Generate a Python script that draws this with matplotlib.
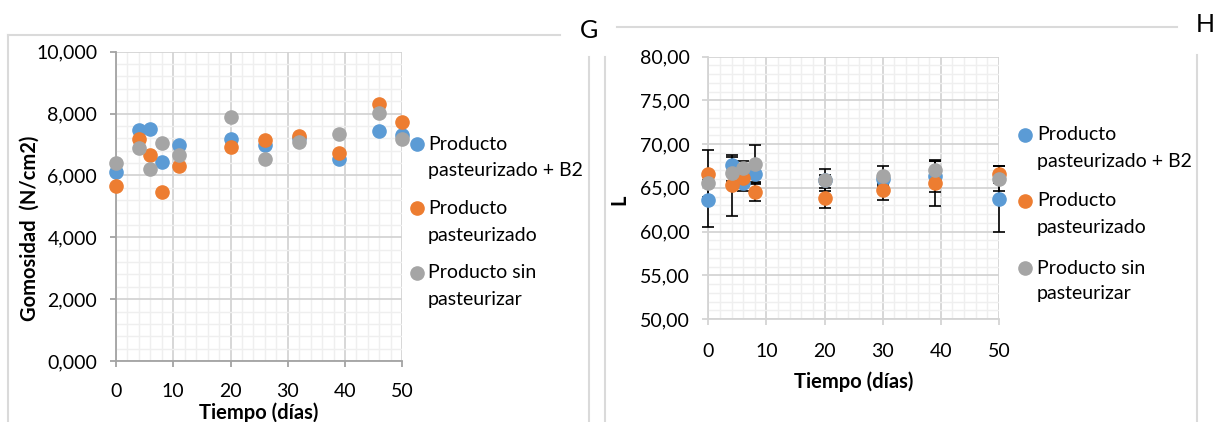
import matplotlib.pyplot as plt
from matplotlib.lines import Line2D
from matplotlib.ticker import FuncFormatter, MultipleLocator

plt.rcParams["font.family"] = ["Lato", "DejaVu Sans"]

# Gomosidad (N/cm2) over storage time
days_g = [0, 4, 6, 8, 11, 20, 26, 32, 39, 46, 50]
gom_b2 = [6.10, 7.47, 7.50, 6.44, 6.97, 7.17, 6.97, 7.22, 6.53, 7.44, 7.31]
gom_past = [5.66, 7.17, 6.66, 5.45, 6.30, 6.93, 7.15, 7.27, 6.72, 8.30, 7.74]
gom_raw = [6.39, 6.88, 6.22, 7.06, 6.66, 7.88, 6.54, 7.09, 7.33, 8.03, 7.19]

# Luminosity L with standard deviations
days_l = [0, 4, 6, 8, 20, 30, 39, 50]
l_b2 = [63.57, 67.58, 65.55, 66.63, 65.94, 66.00, 66.30, 63.76]
l_b2_err = [3.00, 0.90, 0.90, 1.00, 0.50, 0.60, 1.80, 3.76]
l_past = [66.63, 65.29, 66.17, 64.52, 63.88, 64.79, 65.55, 66.55]
l_past_err = [2.67, 3.50, 0.50, 1.00, 1.15, 1.20, 2.65, 1.00]
l_raw = [65.55, 66.74, 67.31, 67.70, 65.86, 66.35, 67.09, 66.05]
l_raw_err = [0.30, 1.00, 0.76, 2.25, 1.25, 1.10, 1.00, 1.40]

labels = [["Producto", "pasteurizado + B2"],
          ["Producto", "pasteurizado"],
          ["Producto sin", "pasteurizar"]]
colors = ["#5B9BD5", "#ED7D31", "#A5A5A5"]

W, H = 1218, 422


def fx(px):
    return px / W


def fy(py):
    return 1 - py / H


def style_axes(ax, spine_color, ymaj, ymin, fmt, xpad):
    ax.set_xlim(0, 50)
    ax.xaxis.set_major_locator(MultipleLocator(10))
    ax.xaxis.set_minor_locator(MultipleLocator(2))
    ax.yaxis.set_major_locator(MultipleLocator(ymaj))
    ax.yaxis.set_minor_locator(MultipleLocator(ymin))
    ax.yaxis.set_major_formatter(FuncFormatter(lambda v, p: fmt.format(v).replace(".", ",")))
    ax.grid(which="major", color="#D4D4D4", linewidth=1.3)
    ax.grid(which="minor", color="#EFEFEF", linewidth=1.0)
    ax.set_axisbelow(True)
    for side in ("top", "right"):
        ax.spines[side].set_visible(False)
    for side in ("left", "bottom"):
        ax.spines[side].set_color(spine_color)
        ax.spines[side].set_linewidth(1.3)
    ax.tick_params(which="major", direction="out", length=4.5, width=1.3,
                   color=spine_color, labelsize=14, pad=9)
    ax.tick_params(axis="x", which="major", pad=xpad)
    ax.tick_params(which="minor", length=0)


def draw_legend(fig, mx, tx, rows):
    for (y1, y2), lab, c in zip(rows, labels, colors):
        fig.add_artist(Line2D([fx(mx)], [fy(y1)], marker="o", ms=9.5, color=c,
                              linestyle="none", transform=fig.transFigure))
        fig.text(fx(tx), fy(y1), lab[0], fontsize=14, va="center", ha="left")
        fig.text(fx(tx), fy(y2), lab[1], fontsize=14, va="center", ha="left")


fig = plt.figure(figsize=(W / 100, H / 100), dpi=100)

# left panel: gumminess
ax1 = fig.add_axes([fx(116), fy(361), fx(402.3) - fx(116), fy(51.7) - fy(361)])
ax1.set_ylim(0, 10)
style_axes(ax1, "#A3A3A3", 2, 0.4, "{:.3f}", 11.5)
for ys, c in zip([gom_b2, gom_past, gom_raw], colors):
    ax1.plot(days_g, ys, "o", ms=9.5, color=c, clip_on=False, zorder=3)
ax1.set_xlabel("Tiempo (días)", fontsize=14.5, fontweight="bold")
ax1.set_ylabel("Gomosidad  (N/cm2)", fontsize=14.5, fontweight="bold")
ax1.xaxis.set_label_coords(0.5, -0.135)
ax1.yaxis.set_label_coords(-0.265, 0.43)
draw_legend(fig, 417, 428, [(144, 170), (208, 236), (273, 299)])

# right panel: luminosity
ax2 = fig.add_axes([fx(708.3), fy(319), fx(999) - fx(708.3), fy(56.7) - fy(319)])
ax2.set_ylim(50, 80)
style_axes(ax2, "#D4D4D4", 5, 1, "{:.2f}", 12.5)
for ys, es, c in zip([l_b2, l_past, l_raw], [l_b2_err, l_past_err, l_raw_err], colors):
    ax2.errorbar(days_l, ys, yerr=es, fmt="none", ecolor="black", elinewidth=1.2,
                 capsize=4, capthick=1.2, clip_on=False, zorder=3)
for ys, c in zip([l_b2, l_past, l_raw], colors):
    ax2.plot(days_l, ys, "o", ms=9.5, color=c, clip_on=False, zorder=4)
ax2.set_xlabel("Tiempo (días)", fontsize=14.5, fontweight="bold")
ax2.set_ylabel("L", fontsize=14.5, fontweight="bold")
ax2.xaxis.set_label_coords(0.5, -0.2)
ax2.yaxis.set_label_coords(-0.27, 0.454)
draw_legend(fig, 1025, 1037, [(135, 161), (201, 228), (268, 293)])

# surrounding frame lines and panel letters
frame = "#DADADA"
segments = [
    ((8, 560), (35, 35)), ((8, 8), (35, 422)), ((589, 589), (57, 422)),
    ((605, 605), (57, 422)), ((617, 1177), (27, 27)), ((1197, 1197), (55, 422)),
]
for xs, ys in segments:
    fig.add_artist(Line2D([fx(x) for x in xs], [fy(y) for y in ys], color=frame,
                          linewidth=1.5, transform=fig.transFigure))
fig.text(fx(589), fy(30), "G", fontsize=18, ha="center", va="center")
fig.text(fx(1205), fy(25), "H", fontsize=18, ha="center", va="center")

fig.savefig("out.png", dpi=100)
